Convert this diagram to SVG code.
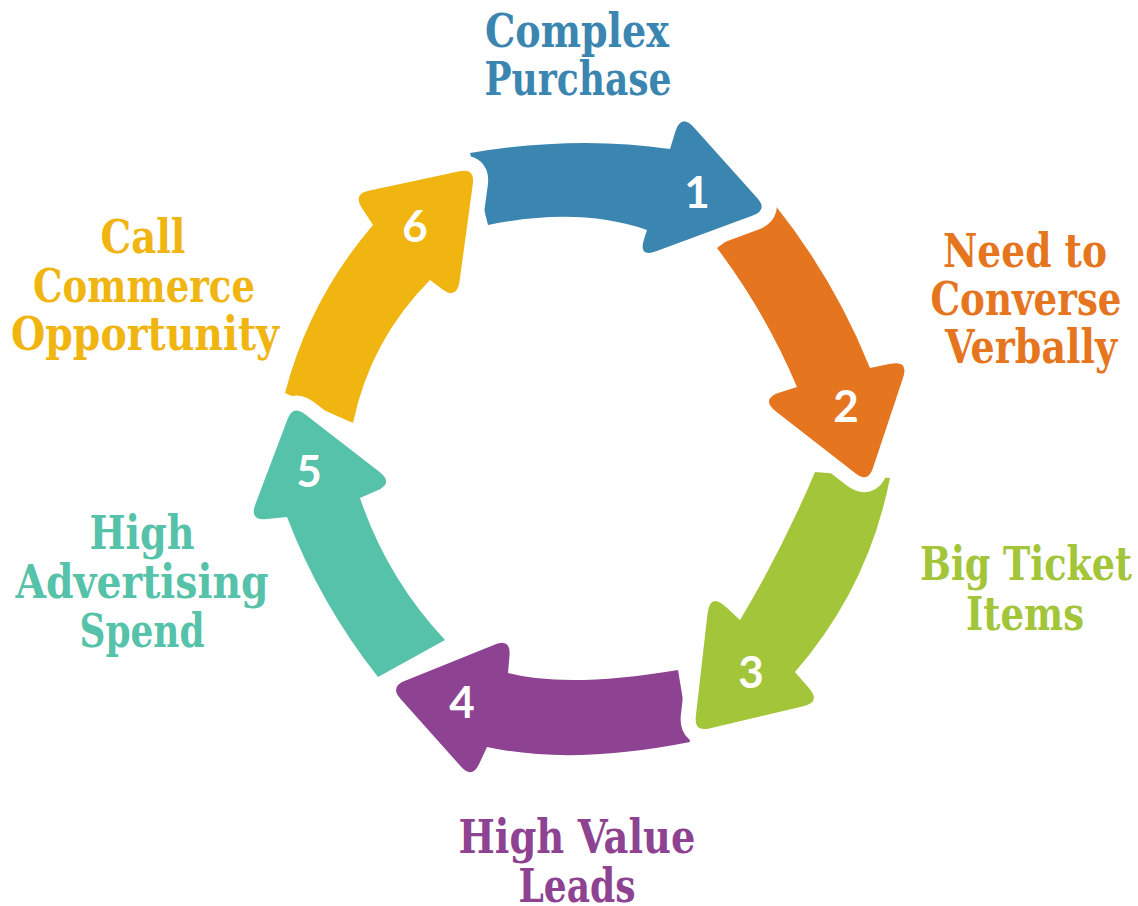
<svg xmlns="http://www.w3.org/2000/svg" xmlns:xlink="http://www.w3.org/1999/xlink" width="1138" height="906" viewBox="0 0 1138 906">
<style>
.lbl{font-family:"DejaVu Serif","Liberation Serif",serif;font-weight:700;font-stretch:condensed;font-size:46px;text-anchor:middle}
.num{font-family:Lato,"Open Sans","Liberation Sans",sans-serif;font-weight:700;font-size:44px;fill:#fff;text-anchor:middle}
.cut{fill:#000;stroke:#000;stroke-width:30;stroke-linejoin:round}
.c1{fill:#3b86b0}.c2{fill:#e67520}.c3{fill:#a3c539}.c4{fill:#8d4391}.c5{fill:#55c2a9}.c6{fill:#f0b510}
</style>
<defs>
<path id="a1" d="M470,153 Q576,135 670,149 L675.3,131.7 Q681,113 694,127.5 L757.2,197.9 Q768,210 752.8,215.6 L656.8,251.1 Q638,258 644.1,239 L647,230 Q578.5,206.5 488,225 Z"/>
<path id="a2" d="M775,205 Q834.5,279.5 870,368 L890.4,363.8 Q909,360 903,378 L872.9,468.2 Q868,483 855.7,473.4 L776.3,411.7 Q760,399 779.7,392.6 L797,387 Q765.6,312.5 717,248 Z"/>
<path id="a3" d="M890,478 Q868.5,587.5 795,672 L809.1,688.2 Q821,702 803.3,706.2 L709.3,728.4 Q694,732 695.8,716.4 L707.5,613.8 Q710,592 726,607 L740,620 Q782,550 815,472 Z"/>
<path id="a4" d="M690,742 Q571.5,765.5 487,747 L479.1,763.9 Q472,779 460.9,766.5 L400.4,698.7 Q390,687 404.5,681.1 L494.4,644.7 Q511,638 509.5,655.8 L508,673 Q567,688.5 678,670 Z"/>
<path id="a5" d="M378,677 Q320.3,604 287,517 L266.8,519.1 Q249,521 255.4,504.3 L287.7,418.8 Q293,405 304.7,414 L379.3,471.7 Q394,483 377.1,490.5 L360,498 Q387.1,578.2 445,640 Z"/>
<path id="a6" d="M285,393 Q309.6,298.8 373,225 L361.6,207.4 Q353,194 368.6,190.7 L459.6,171.3 Q475,168 472.9,183.6 L459.5,281.6 Q457,300 442,288.9 L430,280 Q370.3,340.1 353,423 Z"/>
<mask id="m1" maskUnits="userSpaceOnUse" x="0" y="0" width="1138" height="906"><rect width="1138" height="906" fill="#fff"/><use href="#a6" class="cut"/></mask>
<mask id="m2" maskUnits="userSpaceOnUse" x="0" y="0" width="1138" height="906"><rect width="1138" height="906" fill="#fff"/><use href="#a1" class="cut"/></mask>
<mask id="m3" maskUnits="userSpaceOnUse" x="0" y="0" width="1138" height="906"><rect width="1138" height="906" fill="#fff"/><use href="#a2" class="cut"/></mask>
<mask id="m4" maskUnits="userSpaceOnUse" x="0" y="0" width="1138" height="906"><rect width="1138" height="906" fill="#fff"/><use href="#a3" class="cut"/></mask>
<mask id="m5" maskUnits="userSpaceOnUse" x="0" y="0" width="1138" height="906"><rect width="1138" height="906" fill="#fff"/><use href="#a4" class="cut"/></mask>
<mask id="m6" maskUnits="userSpaceOnUse" x="0" y="0" width="1138" height="906"><rect width="1138" height="906" fill="#fff"/><use href="#a5" class="cut"/></mask>
</defs>
<rect width="1138" height="906" fill="#fff"/>
<g id="node1">
<use href="#a1" class="c1" mask="url(#m1)"/>
<text class="num" x="697" y="208">1</text>
<text class="lbl c1" x="577" y="47" textLength="184" lengthAdjust="spacingAndGlyphs">Complex</text>
<text class="lbl c1" x="578" y="95" textLength="187" lengthAdjust="spacingAndGlyphs">Purchase</text>
</g>
<g id="node2">
<use href="#a2" class="c2" mask="url(#m2)"/>
<text class="num" x="846" y="422">2</text>
<text class="lbl c2" x="1025" y="267" textLength="164" lengthAdjust="spacingAndGlyphs">Need to</text>
<text class="lbl c2" x="1026" y="315" textLength="191" lengthAdjust="spacingAndGlyphs">Converse</text>
<text class="lbl c2" x="1031" y="363" textLength="172" lengthAdjust="spacingAndGlyphs">Verbally</text>
</g>
<g id="node3">
<use href="#a3" class="c3" mask="url(#m3)"/>
<text class="num" x="751" y="688">3</text>
<text class="lbl c3" x="1026" y="580" textLength="212" lengthAdjust="spacingAndGlyphs">Big Ticket</text>
<text class="lbl c3" x="1025" y="630" textLength="118" lengthAdjust="spacingAndGlyphs">Items</text>
</g>
<g id="node4">
<use href="#a4" class="c4" mask="url(#m4)"/>
<text class="num" x="462" y="718">4</text>
<text class="lbl c4" x="577" y="853" textLength="237" lengthAdjust="spacingAndGlyphs">High Value</text>
<text class="lbl c4" x="577" y="902" textLength="117" lengthAdjust="spacingAndGlyphs">Leads</text>
</g>
<g id="node5">
<use href="#a5" class="c5" mask="url(#m5)"/>
<text class="num" x="309" y="487">5</text>
<text class="lbl c5" x="142" y="549" textLength="105" lengthAdjust="spacingAndGlyphs">High</text>
<text class="lbl c5" x="142" y="598" textLength="253" lengthAdjust="spacingAndGlyphs">Advertising</text>
<text class="lbl c5" x="142" y="647" textLength="125" lengthAdjust="spacingAndGlyphs">Spend</text>
</g>
<g id="node6">
<use href="#a6" class="c6" mask="url(#m6)"/>
<text class="num" x="415" y="242">6</text>
<text class="lbl c6" x="143" y="253" textLength="85" lengthAdjust="spacingAndGlyphs">Call</text>
<text class="lbl c6" x="144" y="302" textLength="222" lengthAdjust="spacingAndGlyphs">Commerce</text>
<text class="lbl c6" x="145" y="350" textLength="268" lengthAdjust="spacingAndGlyphs">Opportunity</text>
</g>
</svg>
